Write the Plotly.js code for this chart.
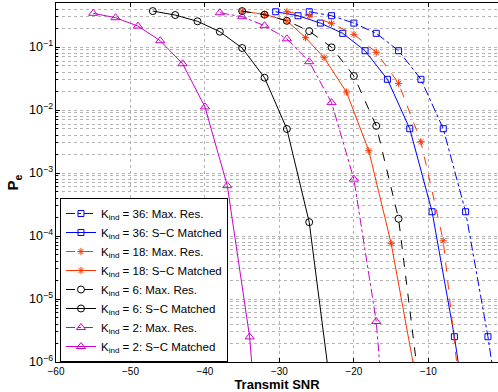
<!DOCTYPE html>
<html>
<head>
<meta charset="utf-8">
<script src="https://cdn.plot.ly/plotly-3.0.1.min.js"></script>
<style>html,body{margin:0;padding:0;background:#fff;}#chart{width:498px;height:392px;}</style>
</head>
<body>
<div id="chart"></div>
<script>
// ---- data ----
var xK36Max = [-26, -23, -20, -17, -14, -11, -8, -5, -2, 1];
var yK36Max = [0.363, 0.314, 0.240, 0.165, 0.0874, 0.0307, 5.05e-3, 2.43e-4, 2.52e-6, 1e-8];
var xK36SC  = [-30.5, -27.5, -24.5, -21.5, -18.5, -15.5, -12.5, -9.5, -6.5, -3.5];
var yK36SC  = [0.363, 0.314, 0.240, 0.165, 0.0874, 0.0307, 5.05e-3, 2.43e-4, 2.52e-6, 1e-8];

var xK18Max = [-29, -26, -23, -20, -17, -14, -11, -8, -5];
var yK18Max = [0.363, 0.314, 0.238, 0.159, 0.0824, 0.0265, 3.14e-3, 8.4e-5, 5.1e-8];
var xK18SC  = [-35, -32, -29, -26.5, -24, -21, -18, -15, -12];
var yK18SC  = [0.37, 0.33, 0.261, 0.141, 0.0676, 0.0193, 2.26e-3, 7.66e-5, 9e-7];

var xK6Max  = [-35, -32, -29, -26, -23, -20, -17, -14, -11];
var yK6Max  = [0.372, 0.326, 0.261, 0.179, 0.0989, 0.0347, 5.6e-3, 1.88e-4, 2.5e-7];
var xK6SC   = [-47, -44, -41, -38, -35, -32, -29, -26, -23];
var yK6SC   = [0.372, 0.322, 0.256, 0.175, 0.0964, 0.0326, 5.0e-3, 1.66e-4, 2.9e-7];

var xK2Max  = [-38, -35, -32, -29, -26, -23, -20, -17, -14];
var yK2Max  = [0.35, 0.303, 0.218, 0.135, 0.0585, 0.0131, 8.0e-4, 4.4e-6, 2e-10];
var xK2SC   = [-55, -52, -49, -46, -43, -40, -37, -34, -31];
var yK2SC   = [0.343, 0.292, 0.215, 0.126, 0.0543, 0.0112, 6.3e-4, 2.5e-6, 1e-10];

var seriesNames = [
  'K<sub>ind</sub> = 36: Max. Res.',
  'K<sub>ind</sub> = 36: S\u2212C Matched',
  'K<sub>ind</sub> = 18: Max. Res.',
  'K<sub>ind</sub> = 18: S\u2212C Matched',
  'K<sub>ind</sub> = 6: Max. Res.',
  'K<sub>ind</sub> = 6: S\u2212C Matched',
  'K<sub>ind</sub> = 2: Max. Res.',
  'K<sub>ind</sub> = 2: S\u2212C Matched'
];
var xTickVals = [-60, -50, -40, -30, -20, -10];

// ---- styles ----
var BLUE = '#0000ff', RED = '#ff3300', BLACK = '#000000', MAG = '#cc00cc';
function tr(x, y, name, color, dash, symbol, msize) {
  return {
    x: x, y: y, name: name, type: 'scatter', mode: 'lines+markers',
    line: {color: color, width: 1, dash: dash},
    marker: {symbol: symbol, size: msize, color: color, line: {color: color, width: 1}},
    cliponaxis: true
  };
}
var data = [
  tr(xK36Max, yK36Max, seriesNames[0], BLUE, 'dashdot', 'square-open', 6),
  tr(xK36SC,  yK36SC,  seriesNames[1], BLUE, 'solid', 'square-open', 6),
  tr(xK18Max, yK18Max, seriesNames[2], RED, 'dash', 'asterisk-open', 6),
  tr(xK18SC,  yK18SC,  seriesNames[3], RED, 'solid', 'asterisk-open', 6),
  tr(xK6Max,  yK6Max,  seriesNames[4], BLACK, 'dash', 'circle-open', 7),
  tr(xK6SC,   yK6SC,   seriesNames[5], BLACK, 'solid', 'circle-open', 7),
  tr(xK2Max,  yK2Max,  seriesNames[6], MAG, 'dashdot', 'triangle-up-open', 8),
  tr(xK2SC,   yK2SC,   seriesNames[7], MAG, 'solid', 'triangle-up-open', 8)
];

var GRID = '#b4b4b4';
var FONT = 'Liberation Sans, Arial, Helvetica, sans-serif';
var layout = {
  width: 498, height: 392,
  margin: {l: 56, r: 0, t: 3, b: 30},
  paper_bgcolor: '#ffffff', plot_bgcolor: '#ffffff',
  font: {family: FONT, size: 10, color: '#000'},
  showlegend: true,
  legend: {
    x: 0.009, y: 0, xanchor: 'left', yanchor: 'bottom',
    bgcolor: '#ffffff', bordercolor: '#000000', borderwidth: 1,
    font: {family: FONT, size: 11.5, color: '#000'},
    itemwidth: 30, tracegroupgap: 0
  },
  xaxis: {
    range: [-60, -0.65],
    tickvals: xTickVals,
    ticks: 'inside', ticklen: 4, tickcolor: '#000',
    showline: true, linecolor: '#000', linewidth: 1, mirror: 'ticks',
    showgrid: true, gridcolor: GRID, griddash: 'dot', gridwidth: 1,
    zeroline: false,
    tickfont: {family: FONT, size: 10},
    title: {text: '<b>Transmit SNR</b>', font: {family: FONT, size: 13}, standoff: 4}
  },
  yaxis: {
    type: 'log',
    range: [-6, Math.log10(0.5)],
    dtick: 1,
    exponentformat: 'power',
    ticks: 'inside', ticklen: 4, tickcolor: '#000',
    showline: true, linecolor: '#000', linewidth: 1, mirror: false,
    showgrid: true, gridcolor: GRID, griddash: 'dot', gridwidth: 1,
    zeroline: false,
    minor: {ticks: 'inside', ticklen: 2, tickcolor: '#000', showgrid: true, gridcolor: GRID, griddash: 'dot', gridwidth: 1},
    tickfont: {family: FONT, size: 10},
    title: {text: '<b>P<sub>e</sub></b>', font: {family: FONT, size: 15}, standoff: 6}
  }
};
Plotly.newPlot('chart', data, layout, {staticPlot: true, displayModeBar: false});
</script>
</body>
</html>
